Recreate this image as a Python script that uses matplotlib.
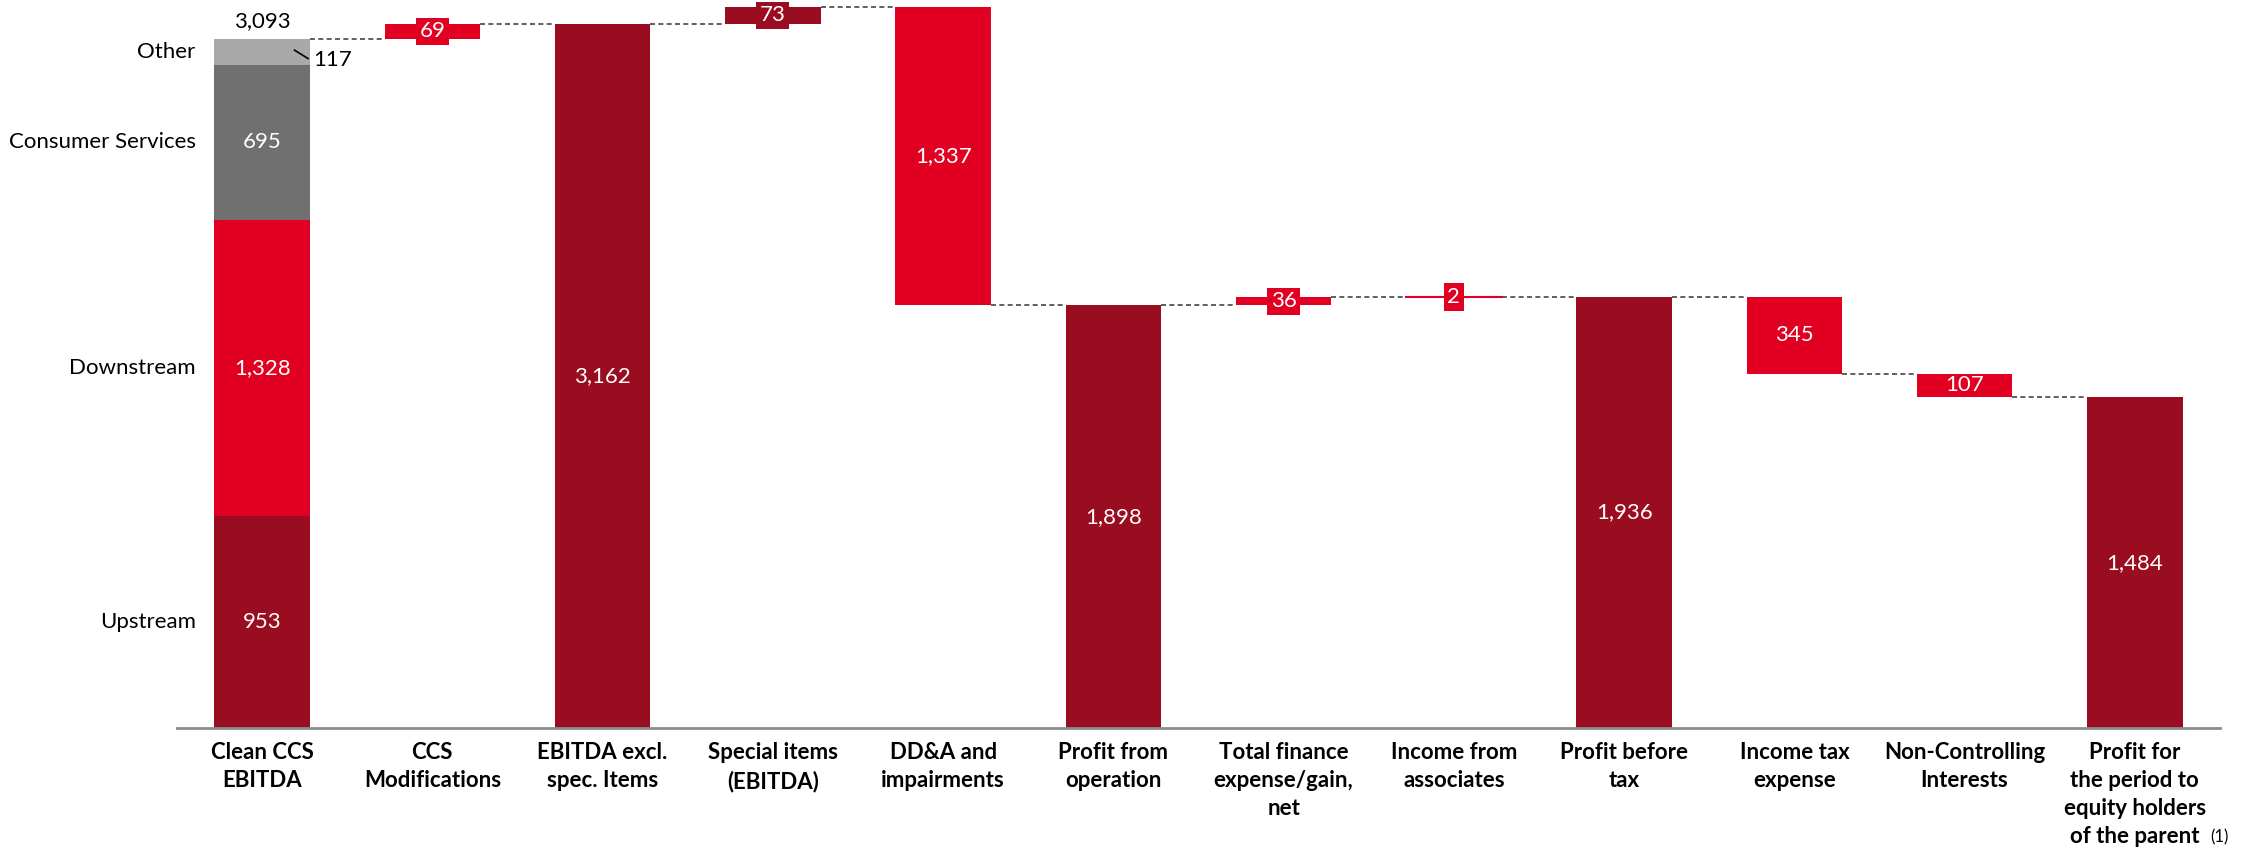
import numpy as np
import matplotlib
matplotlib.use("Agg")
import matplotlib.pyplot as plt

plt.rcParams['font.family'] = ['Lato', 'DejaVu Sans']

# categories / values
CATEGORIES = ["Clean CCS\nEBITDA", "CCS\nModifications", "EBITDA excl.\nspec. Items",
              "Special items\n(EBITDA)", "DD&A and\nimpairments", "Profit from\noperation",
              "Total finance\nexpense/gain,\nnet", "Income from\nassociates", "Profit before\ntax",
              "Income tax\nexpense", "Non-Controlling\nInterests",
              "Profit for\nthe period to\nequity holders\nof the parent"]
VALUES = [3093, 69, 3162, 73, -1337, 1898, 36, 2, 1936, -345, -107, 1484]
KINDS = ["stack", "delta", "total", "delta", "delta", "total", "delta", "delta", "total",
         "delta", "delta", "total"]

SEG_NAMES = ["Upstream", "Downstream", "Consumer Services", "Other"]
SEG_VALUES = [953, 1328, 695, 117]

DARK = "#9A0C20"
RED = "#E10021"
SEG_COLORS = [DARK, RED, "#707070", "#A9A9A9"]
BAR_COLORS = [None, RED, DARK, DARK, RED, DARK, RED, RED, DARK, RED, RED, DARK]

W = 0.56
FS = 16

fig = plt.figure(figsize=(22.48, 8.51), dpi=100)
ax = fig.add_axes([177/2248, 123/851, (2220-177)/2248, 728/851])

x = np.arange(len(CATEGORIES))
running = 0
levels = []
for i, (v, k) in enumerate(zip(VALUES, KINDS)):
    if k == "stack":
        bottom = 0
        for name, sv, c in zip(SEG_NAMES, SEG_VALUES, SEG_COLORS):
            ax.bar(i, sv, W, bottom=bottom, color=c, linewidth=0)
            if name != "Other":
                ax.text(i, bottom + sv/2, f"{sv:,}", color="white", ha="center", va="center", fontsize=FS)
            ax.text(i - W/2 - 0.11, bottom + sv/2, name, ha="right", va="center", fontsize=FS)
            bottom += sv
        running = bottom
        ax.annotate(f"{running:,}", (i, running), xytext=(0, 6), textcoords="offset points",
                    ha="center", va="bottom", fontsize=FS)
        ax.text(0.30, 2998, f"{SEG_VALUES[-1]}", ha="left", va="center", fontsize=FS)
        ax.plot([0.19, 0.27], [3043, 3005], color="black", lw=1.2)
    elif k == "total":
        running = v
        ax.bar(i, v, W, color=BAR_COLORS[i], linewidth=0)
        ax.text(i, v/2, f"{v:,}", color="white", ha="center", va="center", fontsize=FS)
    else:
        lo = min(running, running + v)
        ax.bar(i, abs(v), W, bottom=lo, color=BAR_COLORS[i], linewidth=0)
        if abs(v) < 100:
            ax.text(i, lo + abs(v)/2, f"{abs(v):,}", color="white", ha="center", va="center",
                    fontsize=FS, bbox=dict(facecolor=BAR_COLORS[i], edgecolor="none", pad=2.5))
            if abs(v) < 5:
                ax.plot([i - W/2, i + W/2], [lo, lo], color=BAR_COLORS[i], lw=1.5)
        else:
            ax.text(i, lo + abs(v)/2, f"{abs(v):,}", color="white", ha="center", va="center", fontsize=FS)
        running += v
    levels.append(running)

# connector lines
for i in range(len(CATEGORIES) - 1):
    ax.plot([i + W/2, i + 1 - W/2], [levels[i], levels[i]], color="#444444",
            lw=1.2, ls=(0, (3, 2)))

ax.set_xlim(-0.5, 11.5)
ax.set_ylim(0, 3268)
ax.set_xticks(x)
ax.set_xticklabels(CATEGORIES, fontsize=FS, fontweight="bold", linespacing=1.42)
ax.tick_params(axis="x", length=0, pad=10)
ax.set_yticks([])
for s in ["top", "right", "left"]:
    ax.spines[s].set_visible(False)
ax.spines["bottom"].set_color("#8C8C8C")
ax.spines["bottom"].set_linewidth(2)

# footnote marker after the last label
fig.canvas.draw()
bb = ax.get_xticklabels()[-1].get_window_extent()
fig.text((bb.x1 + 4) / fig.bbox.width, (bb.y0 + 2) / fig.bbox.height, "(1)",
         fontsize=12, ha="left", va="bottom")

fig.savefig("out.png", dpi=100)
